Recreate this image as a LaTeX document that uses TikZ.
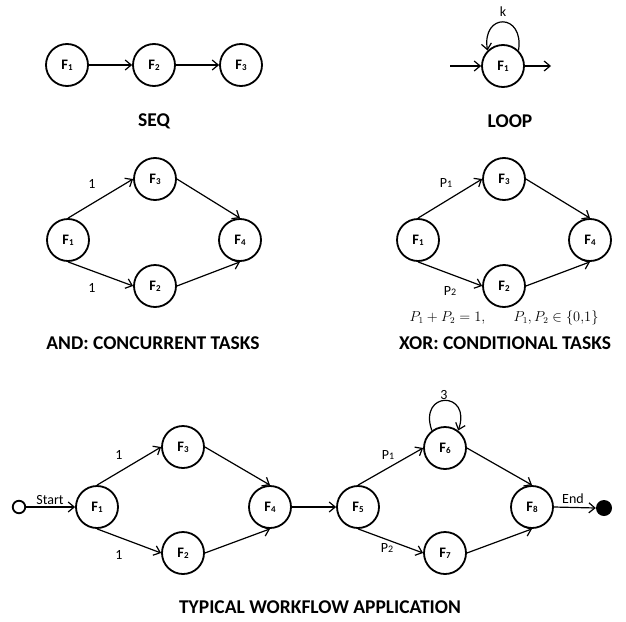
\documentclass[tikz,border=0pt]{standalone}
\usepackage{fontspec}
\setmainfont{Carlito}
\usetikzlibrary{arrows.meta}
\newcommand{\fnsub}[2]{#1\raisebox{-0.8pt}{\fontsize{9}{9}\selectfont #2}}
\newcommand{\plab}[1]{P\raisebox{-0.5pt}{\fontsize{10}{10}\selectfont #1}}
\begin{document}
\begin{tikzpicture}[x=1pt,y=-1pt,
  fn/.style={circle,draw,line width=1.8pt,minimum size=42pt,inner sep=0pt,font=\fontsize{14.5}{14.5}\selectfont\bfseries},
  arr/.style={line width=1.2pt,-{Straight Barb[length=6pt,width=10pt]}},
  ttl/.style={font=\fontsize{19.5}{19.5}\selectfont\bfseries},
  lbl/.style={font=\fontsize{14}{14}\selectfont,inner sep=0pt},
]
\useasboundingbox[fill=white] (0,0) rectangle (626,621);
% ---------- SEQ
\node[fn] (s1) at (67,65) {\fnsub{F}{1}};
\node[fn] (s2) at (154,65) {\fnsub{F}{2}};
\node[fn] (s3) at (241,65) {\fnsub{F}{3}};
\draw[arr] (s1) -- (s2);
\draw[arr] (s2) -- (s3);
\node[ttl] (tseq) at (154,121) {SEQ};
% ---------- LOOP
\node[fn] (l1) at (503,66) {\fnsub{F}{1}};
\coordinate (lin) at (450,66);
\coordinate (lout) at (551,66);
\draw[arr] (lin) -- (l1.west);
\draw[arr] (l1.east) -- (lout);
\draw[arr] (l1.45) .. controls +(6,-38) and +(-6,-38) .. (l1.135);
\node[lbl] (lk) at (503,12) {k};
\node[ttl] (tloop) at (510,121) {LOOP};
% ---------- AND
\node[fn] (a1) at (68,240) {\fnsub{F}{1}};
\node[fn] (a3) at (155,179) {\fnsub{F}{3}};
\node[fn] (a2) at (155,286) {\fnsub{F}{2}};
\node[fn] (a4) at (240,240) {\fnsub{F}{4}};
\draw[arr] (a1.north) -- (a3.west);
\draw[arr] (a1.south) -- (a2.west);
\draw[arr] (a3.east) -- (a4.north);
\draw[arr] (a2.east) -- (a4.south);
\node[lbl] (la1) at (92,184) {1};
\node[lbl] (la2) at (92,288) {1};
\node[ttl] (tand) at (153,343) {AND: CONCURRENT TASKS};
% ---------- XOR
\node[fn] (x1) at (418,240) {\fnsub{F}{1}};
\node[fn] (x3) at (504,179) {\fnsub{F}{3}};
\node[fn] (x2) at (504,286) {\fnsub{F}{2}};
\node[fn] (x4) at (590,240) {\fnsub{F}{4}};
\draw[arr] (x1.north) -- (x3.west);
\draw[arr] (x1.south) -- (x2.west);
\draw[arr] (x3.east) -- (x4.north);
\draw[arr] (x2.east) -- (x4.south);
\node[lbl] (lx1) at (446,183) {\plab{1}};
\node[lbl] (lx2) at (450,291) {\plab{2}};
\node[font=\fontsize{13.5}{13.5}\selectfont] (eq) at (504,318) {$P_1+P_2=1,\hspace{26pt}P_1,P_2\in\{0{,}1\}$};
\node[ttl] (txor) at (505,343) {XOR: CONDITIONAL TASKS};
% ---------- TYPICAL
\node[circle,draw,line width=1.8pt,minimum size=12.5pt,inner sep=0pt] (st) at (19,507) {};
\node[fn] (b1) at (97,507) {\fnsub{F}{1}};
\node[fn] (b3) at (183,447) {\fnsub{F}{3}};
\node[fn] (b2) at (183,553) {\fnsub{F}{2}};
\node[fn] (b4) at (270,507) {\fnsub{F}{4}};
\node[fn] (b5) at (358,507) {\fnsub{F}{5}};
\node[fn] (b6) at (445,448) {\fnsub{F}{6}};
\node[fn] (b7) at (445,553) {\fnsub{F}{7}};
\node[fn] (b8) at (532,507) {\fnsub{F}{8}};
\node[circle,fill=black,minimum size=16pt,inner sep=0pt] (en) at (604,508) {};
\draw[arr] (st) -- (b1);
\draw[arr] (b1.north) -- (b3.west);
\draw[arr] (b1.south) -- (b2.west);
\draw[arr] (b3.east) -- (b4.north);
\draw[arr] (b2.east) -- (b4.south);
\draw[arr] (b4) -- (b5);
\draw[arr] (b5.north) -- (b6.west);
\draw[arr] (b5.south) -- (b7.west);
\draw[arr] (b6.east) -- (b8.north);
\draw[arr] (b7.east) -- (b8.south);
\draw[arr] (b8.east) -- (en.west);
\draw[arr] (b6.127) .. controls +(-14,-40) and +(14,-40) .. (b6.53);
\node[lbl] (lstart) at (50,500) {Start};
\node[lbl] (lend) at (573,499) {End};
\node[lbl] (lb1) at (119,455) {1};
\node[lbl] (lb2) at (119,555) {1};
\node[lbl] (lp1) at (388,455) {\plab{1}};
\node[lbl] (lp2) at (387,548) {\plab{2}};
\node[lbl] (l3) at (444,395) {3};
\node[ttl] (ttyp) at (320,607) {TYPICAL WORKFLOW APPLICATION};
\end{tikzpicture}
\end{document}
